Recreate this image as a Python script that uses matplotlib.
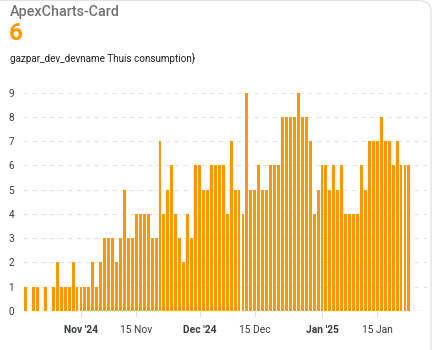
import matplotlib
matplotlib.use("Agg")
import matplotlib.pyplot as plt
import matplotlib.dates as mdates
from matplotlib.patches import FancyBboxPatch
import pandas as pd

# Daily gas consumption
start_date = "2024-10-18"
consumption = [
    1, 0, 1, 1, 0, 1, 0, 1, 2, 1, 1, 1, 2, 1, 1, 1, 1,
    2, 1, 2, 3, 3, 3, 2, 3, 5, 3, 3, 4, 4, 4, 4, 3, 3,
    7, 4, 5, 6, 4, 3, 2, 4, 3, 6, 6, 5, 5, 6, 6, 6, 6,
    4, 7, 5, 5, 4, 9, 5, 5, 6, 5, 5, 6, 6, 6, 8, 8, 8,
    8, 9, 8, 8, 7, 4, 5, 6, 6, 5, 6, 5, 6, 4, 4, 4, 4,
    6, 5, 7, 7, 7, 8, 7, 7, 6, 7, 6, 6, 6,
]
days = pd.date_range(start_date, periods=len(consumption), freq="D")

tick_dates = ["2024-11-01", "2024-11-15", "2024-12-01", "2024-12-15", "2025-01-01", "2025-01-15"]
tick_labels = ["Nov '24", "15 Nov", "Dec '24", "15 Dec", "Jan '25", "15 Jan"]
tick_bold = [True, False, True, False, True, False]
y_ticks = list(range(0, 10))

card_title = "ApexCharts-Card"
header_value = "6"
series_name = "gazpar_dev_devname Thuis consumption}"

ORANGE = "#FF9800"
W, H = 437, 350
plt.rcParams["font.family"] = ["Roboto", "DejaVu Sans"]

fig = plt.figure(figsize=(W / 100, H / 100), dpi=100)
fig.patch.set_facecolor("white")

# card outline
card = FancyBboxPatch((-20 / W, -20 / H), (431 + 20) / W, (H + 19.5) / H,
                      boxstyle="round,pad=0,rounding_size=0.03",
                      transform=fig.transFigure, facecolor="none",
                      edgecolor="#e3e3e3", linewidth=1.0, zorder=-5)
fig.patches.append(card)

# header texts
fig.text(10 / W, 1 - 12 / H, card_title, fontsize=10.4, fontweight="medium",
         color="#727272", va="center", ha="left")
fig.text(9 / W, 1 - 34 / H, header_value, fontsize=17.5, fontweight="bold",
         color=ORANGE, va="center", ha="left")
fig.text(10 / W, 1 - 58.5 / H, series_name, fontsize=7.1,
         color="#212121", va="center", ha="left")

left, right = 23.3 / W, 426.7 / W
bottom, top = (H - 311) / H, (H - 92.7) / H
ax = fig.add_axes([left, bottom, right - left, top - bottom], zorder=2)
ax.set_facecolor("none")

x = mdates.date2num(days)
ax.bar(x, consumption, width=0.74, color=ORANGE, edgecolor="none", zorder=3)

x0 = x[0]
ax.set_xlim(x0 - 0.6, x0 + 101.5)
ax.set_ylim(0, 9)

for v in y_ticks[1:]:
    ax.axhline(v, color="#e4e4e4", lw=0.8, dashes=(4, 4), zorder=1)
ax.axhline(0, color="#e0e0e0", lw=1.0, zorder=2)

for s in ax.spines.values():
    s.set_visible(False)

ax.set_yticks(y_ticks)
ax.set_yticklabels([str(v) for v in y_ticks], fontsize=7.2, color="#373d3f")
ax.tick_params(axis="y", length=0, pad=6.5)

tx = mdates.date2num(pd.to_datetime(tick_dates))
ax.set_xticks(tx)
ax.set_xticklabels(tick_labels, fontsize=7.4, color="#373d3f")
for lab, b in zip(ax.get_xticklabels(), tick_bold):
    if b:
        lab.set_fontweight("bold")
ax.tick_params(axis="x", length=4, width=0.8, color="#e0e0e0", pad=6)

fig.savefig("out.png", dpi=100, facecolor="white")
